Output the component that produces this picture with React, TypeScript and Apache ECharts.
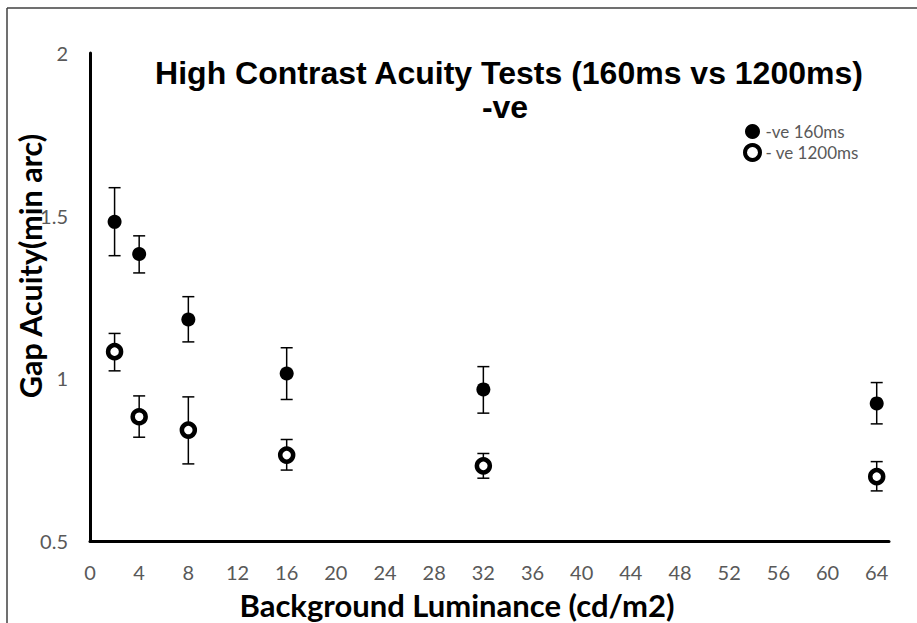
import React, { useEffect, useRef } from "react";
import * as echarts from "echarts";

const luminance = [2, 4, 8, 16, 32, 64];
const mean160 = [1.481, 1.382, 1.181, 1.015, 0.966, 0.923];
const low160 = [1.377, 1.324, 1.112, 0.935, 0.893, 0.86];
const high160 = [1.586, 1.438, 1.251, 1.094, 1.036, 0.987];
const mean1200 = [1.082, 0.882, 0.841, 0.764, 0.731, 0.698];
const low1200 = [1.023, 0.819, 0.737, 0.718, 0.693, 0.654];
const high1200 = [1.138, 0.946, 0.943, 0.812, 0.769, 0.744];

const seriesNames = ["-ve 160ms", "- ve 1200ms"];
const titleLines = ["High Contrast Acuity Tests (160ms vs 1200ms)", "-ve"];
const xTitle = "Background Luminance (cd/m2)";
const yTitle = "Gap Acuity(min arc)";

const FONT = "Lato, 'Liberation Sans', sans-serif";

function errorSeries(lows: number[], highs: number[]) {
  return {
    type: "custom",
    silent: true,
    z: 1,
    data: luminance.map((x, i) => [x, lows[i], highs[i]]),
    renderItem: (params: any, api: any) => {
      const x = api.value(0);
      const lo = api.coord([x, api.value(1)]);
      const hi = api.coord([x, api.value(2)]);
      const hw = 6;
      const style = { stroke: "#000", lineWidth: 1.5 };
      return {
        type: "group",
        children: [
          { type: "line", shape: { x1: lo[0], y1: lo[1], x2: hi[0], y2: hi[1] }, style },
          { type: "line", shape: { x1: lo[0] - hw, y1: lo[1], x2: lo[0] + hw, y2: lo[1] }, style },
          { type: "line", shape: { x1: hi[0] - hw, y1: hi[1], x2: hi[0] + hw, y2: hi[1] }, style },
        ],
      };
    },
  };
}

export default function App() {
  const ref = useRef<HTMLDivElement>(null);
  useEffect(() => {
    if (!ref.current) return;
    const chart = echarts.init(ref.current, undefined, { renderer: "svg" });
    chart.setOption({
      animation: false,
      backgroundColor: "#fff",
      grid: { left: 90, top: 53, right: 28, bottom: 82, containLabel: false },
      xAxis: {
        type: "value",
        min: 0,
        max: 65,
        interval: 4,
        axisLine: { show: true, lineStyle: { color: "#000", width: 3 } },
        axisTick: { show: false },
        splitLine: { show: false },
        axisLabel: {
          showMaxLabel: false,
          color: "#595959",
          fontFamily: FONT,
          fontSize: 20,
          margin: 21,
        },
      },
      yAxis: {
        type: "value",
        min: 0.5,
        max: 2,
        interval: 0.5,
        axisLine: { show: true, lineStyle: { color: "#000", width: 3 } },
        axisTick: { show: false },
        splitLine: { show: false },
        axisLabel: {
          color: "#595959",
          fontFamily: FONT,
          fontSize: 20,
          margin: 22,
        },
      },
      legend: {
        orient: "vertical",
        left: 743,
        top: 121,
        padding: 0,
        itemWidth: 16,
        itemHeight: 15,
        itemGap: 0,
        textStyle: { color: "#595959", fontFamily: FONT, fontSize: 17, lineHeight: 21 },
        data: [
          { name: seriesNames[0], icon: "circle", itemStyle: { color: "#000", borderWidth: 0 } },
          { name: seriesNames[1], icon: "circle", itemStyle: { color: "#fff", borderColor: "#000", borderWidth: 4 } },
        ],
      },
      graphic: [
        { type: "line", shape: { x1: 7, y1: 8, x2: 917, y2: 8 }, style: { stroke: "#404040", lineWidth: 1.5 } },
        { type: "line", shape: { x1: 7, y1: 8, x2: 7, y2: 623 }, style: { stroke: "#404040", lineWidth: 1.5 } },
        {
          type: "text",
          x: 509,
          y: 73,
          style: {
            text: titleLines[0],
            fill: "#000",
            font: "bold 32px 'Liberation Sans', Arial, sans-serif",
            textAlign: "center",
            textVerticalAlign: "middle",
          },
        },
        {
          type: "text",
          x: 505,
          y: 107,
          style: {
            text: titleLines[1],
            fill: "#000",
            font: "bold 32px 'Liberation Sans', Arial, sans-serif",
            textAlign: "center",
            textVerticalAlign: "middle",
          },
        },
        {
          type: "text",
          x: 457,
          y: 605,
          style: {
            text: xTitle,
            fill: "#000",
            font: "bold 31px Lato, sans-serif",
            textAlign: "center",
            textVerticalAlign: "middle",
          },
        },
        {
          type: "text",
          x: 30,
          y: 266,
          rotation: Math.PI / 2,
          style: {
            text: yTitle,
            fill: "#000",
            font: "bold 30.5px Lato, sans-serif",
            textAlign: "center",
            textVerticalAlign: "middle",
          },
        },
      ],
      series: [
        errorSeries(low160, high160),
        errorSeries(low1200, high1200),
        {
          name: seriesNames[0],
          type: "scatter",
          z: 3,
          symbol: "circle",
          symbolSize: 14,
          itemStyle: { color: "#000", opacity: 1 },
          data: luminance.map((x, i) => [x, mean160[i]]),
        },
        {
          name: seriesNames[1],
          type: "scatter",
          z: 3,
          symbol: "circle",
          symbolSize: 13,
          itemStyle: { color: "#fff", borderColor: "#000", borderWidth: 4.5, opacity: 1 },
          data: luminance.map((x, i) => [x, mean1200[i]]),
        },
      ],
    });
    return () => chart.dispose();
  }, []);
  return <div ref={ref} style={{ width: 917, height: 623, position: "absolute", left: 0, top: 0 }} />;
}
